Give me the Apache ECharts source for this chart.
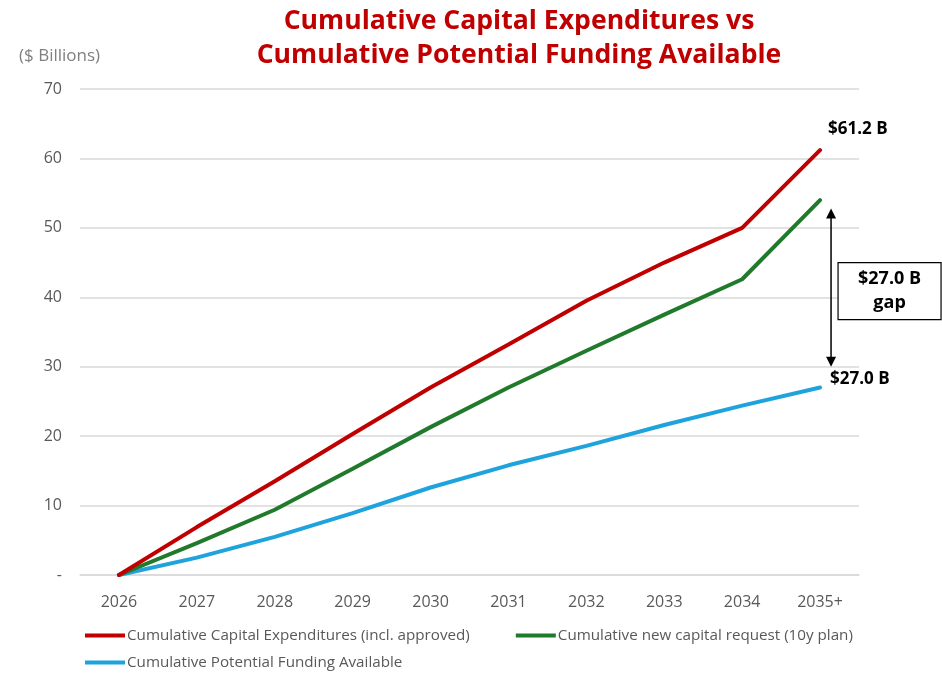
<!DOCTYPE html>
<html>
<head>
<meta charset="utf-8">
<script src="https://cdn.jsdelivr.net/npm/echarts@6/dist/echarts.min.js"></script>
<style>
html,body{margin:0;padding:0;background:#fff;}
#chart{width:942px;height:673px;}
</style>
</head>
<body>
<div id="chart"></div>
<script>
const categories = ['2026','2027','2028','2029','2030','2031','2032','2033','2034','2035+'];
const capexValues = [0, 6.9, 13.5, 20.3, 27.0, 33.2, 39.5, 45.0, 50.0, 61.2];
const requestValues = [0, 4.6, 9.4, 15.3, 21.3, 27.0, 32.3, 37.5, 42.6, 54.0];
const fundingValues = [0, 2.5, 5.5, 8.9, 12.6, 15.8, 18.6, 21.6, 24.4, 27.0];
const yTicks = [0, 10, 20, 30, 40, 50, 60, 70];
const seriesNames = ['Cumulative Capital Expenditures (incl. approved)', 'Cumulative new capital request (10y plan)', 'Cumulative Potential Funding Available'];
const capexEndLabel = '$61.2 B';
const fundingEndLabel = '$27.0 B';
const gapLabel = '$27.0 B\ngap';
const gapArrowTop = 52.8;
const gapArrowBottom = 30.0;

const FONT = '"Open Sans", sans-serif';
const chart = echarts.init(document.getElementById('chart'));

function endLabel(text, offset) {
  return { show: true, formatter: text, offset: offset, distance: 5,
    fontFamily: FONT, fontWeight: 'bold', fontSize: 17, color: '#000' };
}

const option = {
  animation: false,
  backgroundColor: '#fff',
  title: [{
    text: 'Cumulative Capital Expenditures vs\nCumulative Potential Funding Available',
    left: 514, top: -1, textAlign: 'center',
    textStyle: { fontFamily: FONT, fontWeight: 'bold', fontSize: 26.6, color: '#c00000', lineHeight: 34 }
  }, {
    text: '($ Billions)', left: 14, top: 43,
    textStyle: { fontFamily: FONT, fontWeight: 'normal', fontSize: 17, color: '#808080' }
  }],
  legend: [{
    data: [seriesNames[0], seriesNames[1]],
    left: 80, top: 623, orient: 'horizontal',
    icon: 'rect', itemWidth: 40, itemHeight: 4, itemGap: 46,
    textStyle: { fontFamily: FONT, fontSize: 15.2, color: '#595959', padding: [0, 0, 0, -3] }
  }, {
    data: [seriesNames[2]],
    left: 80, top: 650, orient: 'horizontal',
    icon: 'rect', itemWidth: 40, itemHeight: 4,
    textStyle: { fontFamily: FONT, fontSize: 15.2, color: '#595959', padding: [0, 0, 0, -3] }
  }],
  grid: { left: 80, top: 89, width: 779, height: 486 },
  xAxis: {
    type: 'category', data: categories, boundaryGap: true,
    axisLine: { lineStyle: { color: '#d9d9d9', width: 1.5 } },
    axisTick: { show: false },
    axisLabel: { margin: 19, fontFamily: FONT, fontSize: 16, color: '#595959' }
  },
  yAxis: {
    type: 'value', min: yTicks[0], max: yTicks[yTicks.length - 1], interval: 10,
    axisLine: { show: false }, axisTick: { show: false },
    splitLine: { lineStyle: { color: '#d9d9d9', width: 1.5 } },
    axisLabel: { margin: 18, fontFamily: FONT, fontSize: 16, color: '#595959',
      formatter: v => v === 0 ? '-' : String(v) }
  },
  series: [{
    name: seriesNames[0], type: 'line', data: capexValues,
    showSymbol: false, symbol: 'none', endLabel: endLabel(capexEndLabel, [3, -21]),
    lineStyle: { width: 4, color: '#c00000', cap: 'round' }, itemStyle: { color: '#c00000' }, z: 3
  }, {
    name: seriesNames[1], type: 'line', data: requestValues,
    showSymbol: false, symbol: 'none',
    lineStyle: { width: 4, color: '#217a2b', cap: 'round' }, itemStyle: { color: '#217a2b' }, z: 2
  }, {
    name: seriesNames[2], type: 'line', data: fundingValues,
    showSymbol: false, symbol: 'none', endLabel: endLabel(fundingEndLabel, [5, -8]),
    lineStyle: { width: 4, color: '#1fa3dc', cap: 'round' }, itemStyle: { color: '#1fa3dc' }, z: 1
  }]
};
chart.setOption(option);

const pTop = chart.convertToPixel({ gridIndex: 0 }, [categories.length - 1, gapArrowTop]);
const pBot = chart.convertToPixel({ gridIndex: 0 }, [categories.length - 1, gapArrowBottom]);
const ax = pTop[0] + 11;
const midY = (pTop[1] + pBot[1]) / 2 - 25;
chart.setOption({
  graphic: [
    { type: 'line', shape: { x1: ax, y1: pTop[1] + 8, x2: ax, y2: pBot[1] - 8 }, style: { stroke: '#000', lineWidth: 1.5 } },
    { type: 'polygon', shape: { points: [[ax, pTop[1]], [ax - 5, pTop[1] + 10], [ax + 5, pTop[1] + 10]] }, style: { fill: '#000' } },
    { type: 'polygon', shape: { points: [[ax, pBot[1]], [ax - 5, pBot[1] - 10], [ax + 5, pBot[1] - 10]] }, style: { fill: '#000' } },
    { type: 'rect', shape: { x: ax + 7, y: midY, width: 103, height: 57 }, style: { fill: '#fff', stroke: '#000', lineWidth: 1.2 } },
    { type: 'text', x: ax + 58.5, y: midY + 28.5, style: { text: gapLabel, align: 'center', verticalAlign: 'middle',
      font: 'bold 18px "Open Sans", sans-serif', lineHeight: 24, fill: '#000' } }
  ]
});
</script>
</body>
</html>
